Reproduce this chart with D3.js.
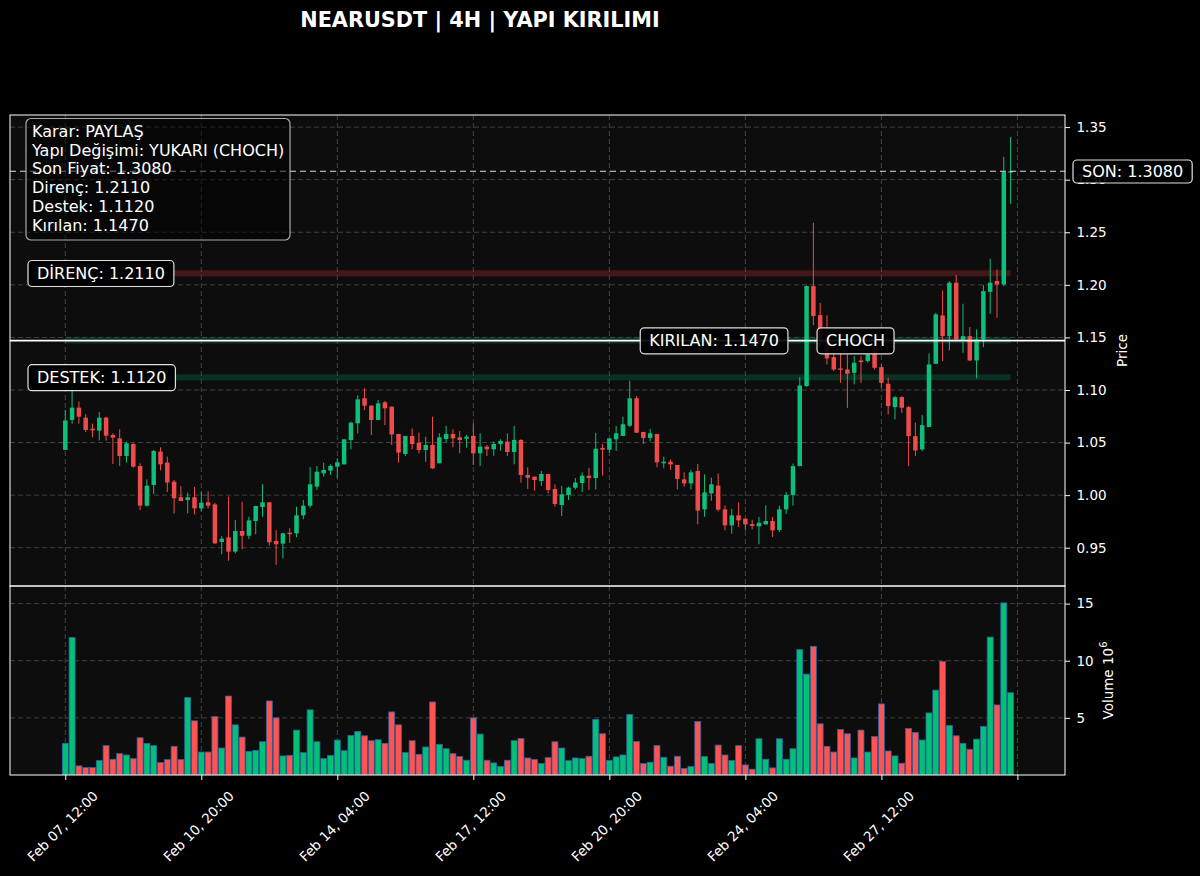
<!DOCTYPE html>
<html><head><meta charset="utf-8">
<script src="https://cdn.jsdelivr.net/npm/d3@7"></script>
<style>body{margin:0;background:#000;} svg{display:block;font-family:"DejaVu Sans",sans-serif;}</style>
</head><body><svg id="c" width="1200" height="876"></svg>
<script>
// ---- DATA ----
const opens=[1.043,1.0715,1.0832,1.0737,1.0632,1.0613,1.0737,1.0572,1.054,1.0372,1.0486,1.0277,0.990,1.0097,1.0414,1.031,1.0128,0.998,0.9954,0.998,0.9874,0.9932,0.9912,0.9555,0.9599,0.9463,0.9659,0.9614,0.9754,0.9887,0.9932,0.9564,0.9539,0.9643,0.9637,0.9808,0.990,1.0081,1.0207,1.0233,1.0271,1.0293,1.0524,1.0683,1.0921,1.0851,1.0715,1.0883,1.0842,1.0582,1.0391,1.0563,1.0499,1.0429,1.0477,1.0303,1.0534,1.0582,1.055,1.0537,1.0563,1.0398,1.0461,1.0436,1.0486,1.0509,1.041,1.0525,1.0192,1.0176,1.0135,1.0201,1.0058,0.9906,1.0001,1.0071,1.0115,1.0185,1.0163,1.0448,1.0432,1.0531,1.0563,1.066,1.0921,1.0601,1.0544,1.0582,1.0303,1.0318,1.0287,1.015,1.0112,1.023,0.9865,1.0017,1.009,0.9865,0.9713,0.9808,0.9776,0.9725,0.9703,0.9722,0.9754,0.9668,0.9865,1.0002,1.0276,1.1037,1.1988,1.1712,1.148,1.1313,1.1205,1.1195,1.1163,1.1281,1.1275,1.1401,1.1217,1.1059,1.0837,1.0932,1.0837,1.0561,1.0435,1.0647,1.1249,1.1709,1.1512,1.202,1.1471,1.1512,1.1281,1.1481,1.1934,1.2036,1.2004,1.3066];
const highs=[1.081,1.1048,1.089,1.077,1.068,1.079,1.0746,1.0588,1.0626,1.0509,1.0493,1.0302,1.015,1.043,1.0455,1.0366,1.0144,1.0087,1.0023,1.0077,1.0033,1.0036,0.9928,0.961,0.9986,0.9764,0.9938,0.9795,0.9897,1.0103,0.9932,0.9669,0.9643,0.9685,0.989,0.9955,1.0265,1.0277,1.0309,1.0293,1.035,1.0531,1.0699,1.0952,1.1016,1.0857,1.0905,1.0895,1.0842,1.0582,1.0563,1.0635,1.0594,1.0556,1.0746,1.0588,1.0658,1.0626,1.061,1.0572,1.0683,1.0588,1.0477,1.0509,1.0531,1.0588,1.0658,1.0531,1.0265,1.0176,1.023,1.0201,1.0103,1.0087,1.0081,1.0163,1.0217,1.026,1.0591,1.0486,1.054,1.0658,1.0746,1.1089,1.0943,1.0601,1.0629,1.0582,1.0366,1.034,1.0287,1.0217,1.024,1.0296,1.0198,1.0166,1.0207,0.9903,0.9871,0.9929,0.9782,0.9766,0.9792,0.9903,0.9792,0.990,1.003,1.030,1.1122,1.1995,1.259,1.1829,1.171,1.1354,1.1354,1.1338,1.1322,1.1322,1.14,1.1449,1.1243,1.1116,1.0942,1.0942,1.0847,1.0688,1.0761,1.1348,1.1734,1.1947,1.2035,1.2093,1.182,1.1598,1.1576,1.1997,1.2248,1.2146,1.3218,1.3405];
const lows=[1.043,1.068,1.068,1.060,1.055,1.052,1.0518,1.0296,1.0277,1.0309,1.0261,0.9858,0.989,1.001,1.0236,1.003,0.9826,0.9944,0.9826,0.9817,0.9845,0.9874,0.9536,0.9437,0.9377,0.9447,0.9485,0.9584,0.9628,0.9795,0.952,0.9336,0.9399,0.9545,0.960,0.977,0.988,1.005,1.0176,1.0192,1.016,1.0293,1.0436,1.0588,1.081,1.0572,1.0715,1.0667,1.0477,1.0309,1.0372,1.0436,1.0398,1.0318,1.0249,1.0303,1.0499,1.0455,1.0398,1.0452,1.0287,1.0277,1.0372,1.0372,1.0423,1.0372,1.0293,1.0119,1.0059,1.0043,1.0087,1.0017,0.989,0.980,0.9954,1.0055,1.003,1.0049,1.0055,1.0185,1.0404,1.042,1.0563,1.0648,1.059,1.0487,1.0512,1.0265,1.0255,1.0239,1.0055,1.0081,1.0055,0.9723,0.9795,0.9947,0.9846,0.9665,0.9633,0.9697,0.9665,0.9675,0.9532,0.9722,0.9602,0.965,0.982,0.990,1.0276,1.103,1.1617,1.1401,1.1243,1.118,1.1068,1.083,1.1053,1.1068,1.126,1.1195,1.1021,1.0767,1.072,1.0783,1.0276,1.0371,1.0419,1.0647,1.1249,1.1275,1.1376,1.1465,1.1354,1.1275,1.111,1.1408,1.1725,1.1687,1.1988,1.2771];
const closes=[1.071,1.0832,1.0746,1.062,1.0616,1.0737,1.0566,1.0547,1.0372,1.0493,1.0271,0.990,1.009,1.042,1.0293,1.012,0.997,0.9944,0.998,0.9874,0.9928,0.990,0.9542,0.9586,0.9463,0.9659,0.9614,0.976,0.9897,0.9932,0.9552,0.9533,0.9637,0.9628,0.9808,0.990,1.0103,1.0223,1.0239,1.0277,1.0312,1.0531,1.0689,1.0911,1.0851,1.0715,1.0873,1.0826,1.0578,1.0404,1.0563,1.0486,1.0429,1.0477,1.0255,1.055,1.0582,1.054,1.0525,1.0556,1.0398,1.0461,1.0436,1.0486,1.0515,1.041,1.0525,1.0192,1.0166,1.0144,1.0201,1.0049,0.9916,1.0008,1.0071,1.0119,1.0185,1.0163,1.0442,1.0432,1.054,1.0588,1.0674,1.0921,1.0594,1.0544,1.0588,1.0312,1.0318,1.0293,1.0154,1.0112,1.0217,0.9853,1.0026,1.0103,0.9862,0.9713,0.9808,0.976,0.9722,0.9707,0.9738,0.9754,0.9665,0.9865,1.0002,1.0276,1.1043,1.1988,1.1703,1.144,1.130,1.1195,1.1192,1.1154,1.1259,1.1265,1.1338,1.1211,1.1068,1.0847,1.0932,1.0831,1.0561,1.0425,1.0666,1.1243,1.1719,1.1512,1.202,1.1481,1.1512,1.1281,1.1481,1.194,1.202,1.2004,1.3072,1.308];
const volumes=[2.77,12.04,0.80,0.65,0.65,1.26,2.57,1.38,1.87,1.75,1.43,3.26,2.77,2.57,1.09,1.35,2.51,1.35,6.77,4.74,2.01,2.01,5.12,2.36,6.91,4.39,3.32,2.07,2.16,2.91,6.48,5.0,1.67,1.72,3.93,1.96,5.70,2.91,1.43,1.72,3.06,2.13,3.46,3.81,3.43,3.0,3.09,2.77,5.52,4.39,1.96,3.0,1.81,2.45,6.39,2.68,2.30,1.87,1.61,1.29,5.0,3.58,1.29,1.06,0.74,1.29,3.0,3.20,1.49,1.35,1.0,1.52,2.91,2.36,1.26,1.49,1.43,1.64,4.86,3.61,1.29,1.58,1.75,5.29,2.94,1.0,1.12,2.57,1.55,0.77,1.64,0.57,0.74,4.68,1.61,1.0,2.62,1.75,1.26,2.57,0.88,0.51,3.17,1.38,0.62,3.17,1.38,2.30,10.97,8.83,11.26,4.48,2.51,2.01,3.99,3.61,1.49,3.93,2.01,3.38,6.22,2.10,1.67,1.03,4.07,3.72,3.06,5.43,7.43,9.93,4.33,3.43,2.77,2.25,3.14,4.25,12.07,6.13,15.06,7.20];
const xTickIndex=[0,20,40,60,80,100,120,140];
const xTickLabels=["Feb 07, 12:00","Feb 10, 20:00","Feb 14, 04:00","Feb 17, 12:00","Feb 20, 20:00","Feb 24, 04:00","Feb 27, 12:00",""];
const priceTicks=[0.95,1.00,1.05,1.10,1.15,1.20,1.25,1.30,1.35];
const volumeTicks=[5,10,15];
const direncLevel=1.2110, destekLevel=1.1120, kirilanLevel=1.1470, sonLevel=1.3080;
const infoLines=["Karar: PAYLAŞ","Yapı Değişimi: YUKARI (CHOCH)","Son Fiyat: 1.3080","Direnç: 1.2110","Destek: 1.1120","Kırılan: 1.1470"];
const titleText="NEARUSDT | 4H | YAPI KIRILIMI";

// ---- LAYOUT ----
const L=10,R=1065,PT=115,PB=586,VT=586,VB=775;
const GREEN="#0dbf7a",RED="#f04b4b",VGREEN="#00c176",VRED="#ff5252";
const FONT="DejaVu Sans";
const svg=d3.select("#c");
svg.append("rect").attr("width",1200).attr("height",876).attr("fill","#000");

const x=d3.scaleLinear().domain([-8.13,147.0]).range([L,R]);
const yP=d3.scaleLinear().domain([0.9136,1.3615]).range([PB,PT]);
const yV=d3.scaleLinear().domain([0,16.54]).range([VB,VT]);
const step=x(1)-x(0);
const n=closes.length;

const defs=svg.append("defs");
defs.append("clipPath").attr("id","cp").append("rect").attr("x",L).attr("y",PT).attr("width",R-L).attr("height",PB-PT);
defs.append("clipPath").attr("id","cv").append("rect").attr("x",L).attr("y",VT).attr("width",R-L).attr("height",VB-VT);

svg.append("rect").attr("x",L).attr("y",PT).attr("width",R-L).attr("height",PB-PT).attr("fill","#0d0d0d");
svg.append("rect").attr("x",L).attr("y",VT).attr("width",R-L).attr("height",VB-VT).attr("fill","#0d0d0d");

// grid
const grid=svg.append("g").attr("stroke","#4a4a4a").attr("stroke-width",0.9).attr("stroke-dasharray","5,3");
priceTicks.forEach(t=>grid.append("line").attr("x1",L).attr("x2",R).attr("y1",yP(t)).attr("y2",yP(t)));
volumeTicks.forEach(t=>grid.append("line").attr("x1",L).attr("x2",R).attr("y1",yV(t)).attr("y2",yV(t)));
xTickIndex.forEach(t=>{
  grid.append("line").attr("x1",x(t)).attr("x2",x(t)).attr("y1",PT).attr("y2",PB);
  grid.append("line").attr("x1",x(t)).attr("x2",x(t)).attr("y1",VT).attr("y2",VB);
});

const pg=svg.append("g").attr("clip-path","url(#cp)");
// zones
function band(level,color,op){
  pg.append("line").attr("x1",x(0)).attr("x2",x(n-1)).attr("y1",yP(level)).attr("y2",yP(level))
    .attr("stroke",color).attr("stroke-opacity",op).attr("stroke-width",6);
}
band(direncLevel,"#dc3c3c",0.25);
band(destekLevel,"#00be78",0.2);
band(kirilanLevel,"#00be78",0.2);

// candles
const idx=d3.range(n);
const cg=pg.append("g");
cg.selectAll("line.w").data(idx).join("line")
  .attr("x1",i=>x(i)).attr("x2",i=>x(i))
  .attr("y1",i=>yP(highs[i])).attr("y2",i=>yP(lows[i]))
  .attr("stroke",i=>closes[i]>=opens[i]?GREEN:RED).attr("stroke-width",1);
const bw=step*0.66;
cg.selectAll("rect.b").data(idx).join("rect")
  .attr("x",i=>x(i)-bw/2).attr("width",bw)
  .attr("y",i=>yP(Math.max(opens[i],closes[i])))
  .attr("height",i=>Math.max(1,Math.abs(yP(opens[i])-yP(closes[i]))))
  .attr("fill",i=>closes[i]>=opens[i]?GREEN:RED);

// lines
pg.append("line").attr("x1",L).attr("x2",R).attr("y1",yP(kirilanLevel)).attr("y2",yP(kirilanLevel))
  .attr("stroke","#fff").attr("stroke-width",1.8);
pg.append("line").attr("x1",L).attr("x2",R).attr("y1",yP(sonLevel)).attr("y2",yP(sonLevel))
  .attr("stroke","#fff").attr("stroke-opacity",0.85).attr("stroke-width",1.2).attr("stroke-dasharray","6,4");

// volume
const vg=svg.append("g").attr("clip-path","url(#cv)");
const vw=step*0.88;
vg.selectAll("rect").data(idx).join("rect")
  .attr("x",i=>x(i)-vw/2).attr("width",vw)
  .attr("y",i=>yV(volumes[i])).attr("height",i=>VB-yV(volumes[i]))
  .attr("fill",i=>closes[i]>=opens[i]?VGREEN:VRED)
  .attr("stroke","#2b64a0").attr("stroke-width",0.8);

// axes
function styleAxis(g){
  g.attr("font-family",FONT).attr("font-size",13.5);
  g.select(".domain").remove();
  g.selectAll("line").attr("stroke","#fff");
  g.selectAll("text").attr("fill","#fff");
}
svg.append("g").attr("transform",`translate(${R},0)`)
  .call(d3.axisRight(yP).tickValues(priceTicks).tickFormat(d3.format(".2f")).tickSize(5).tickPadding(6.5)).call(styleAxis);
svg.append("g").attr("transform",`translate(${R},0)`)
  .call(d3.axisRight(yV).tickValues(volumeTicks).tickFormat(d3.format("d")).tickSize(5).tickPadding(6.5)).call(styleAxis);
const xa=svg.append("g").attr("transform",`translate(0,${VB})`)
  .call(d3.axisBottom(x).tickValues(xTickIndex).tickFormat((d,i)=>xTickLabels[i]).tickSize(5).tickPadding(0)).call(styleAxis);
xa.selectAll(".tick text").each(function(d){
  const t=d3.select(this);
  const W=this.getComputedTextLength();
  const fs=13.5,a=0.93*fs,dd=0.24*fs;
  const ax=0.3535*(W+a-dd)-3, ay=13+0.707*a;
  t.attr("text-anchor","end").attr("dy",null).attr("y",null)
   .attr("transform",`translate(${ax},${ay}) rotate(-45)`);
});

// spines
[[PT,PB],[VT,VB]].forEach(([a,b])=>svg.append("rect").attr("x",L).attr("y",a).attr("width",R-L).attr("height",b-a)
  .attr("fill","none").attr("stroke","#fff").attr("stroke-width",1));

// axis labels
svg.append("text").attr("transform",`translate(1127,${(PT+PB)/2}) rotate(-90)`).attr("text-anchor","middle")
  .attr("font-family",FONT).attr("font-size",13.5).attr("fill","#fff").text("Price");
const vl=svg.append("text").attr("transform",`translate(1113,${(VT+VB)/2}) rotate(-90)`).attr("text-anchor","middle")
  .attr("font-family",FONT).attr("font-size",13.5).attr("fill","#fff");
vl.append("tspan").text("Volume  10");
vl.append("tspan").attr("dy",-6).attr("font-size",10).text("6");

// title
svg.append("text").attr("x",480).attr("y",27).attr("text-anchor","middle").attr("font-family",FONT)
  .attr("font-weight","bold").attr("font-size",20.8).attr("fill","#fff").text(titleText);

// labelled boxes
function boxLabel(text,px,py,anchor,padY){
  const g=svg.append("g");
  const t=g.append("text").attr("x",px).attr("y",py).attr("dy","0.36em").attr("text-anchor",anchor)
    .attr("font-family",FONT).attr("font-size",16).attr("fill","#fff").text(text);
  const bb=t.node().getBBox();
  g.insert("rect","text").attr("x",bb.x-9).attr("y",bb.y-padY).attr("width",bb.width+18).attr("height",bb.height+2*padY)
    .attr("rx",4).attr("fill","#000").attr("fill-opacity",0.9).attr("stroke","#e0e0e0").attr("stroke-width",1.2);
}
boxLabel("DİRENÇ: "+direncLevel.toFixed(4),37,yP(direncLevel),"start",3.5);
boxLabel("DESTEK: "+destekLevel.toFixed(4),37,yP(destekLevel),"start",3.5);
boxLabel("KIRILAN: "+kirilanLevel.toFixed(4),x(95.4),yP(kirilanLevel),"middle",3.5);
boxLabel("CHOCH",x(116.2),yP(kirilanLevel),"middle",3.5);
boxLabel("SON: "+sonLevel.toFixed(4),1082,yP(sonLevel),"start",2);

// info box
const ig=svg.append("g");
ig.append("rect").attr("x",26).attr("y",118.5).attr("width",264).attr("height",121.5).attr("rx",5)
  .attr("fill","#000").attr("fill-opacity",0.5).attr("stroke","#aaa").attr("stroke-width",1.2);
infoLines.forEach((s,i)=>ig.append("text").attr("x",32).attr("y",137+i*18.7).attr("font-family",FONT)
  .attr("font-size",16).attr("fill","#fff").text(s));
</script></body></html>
